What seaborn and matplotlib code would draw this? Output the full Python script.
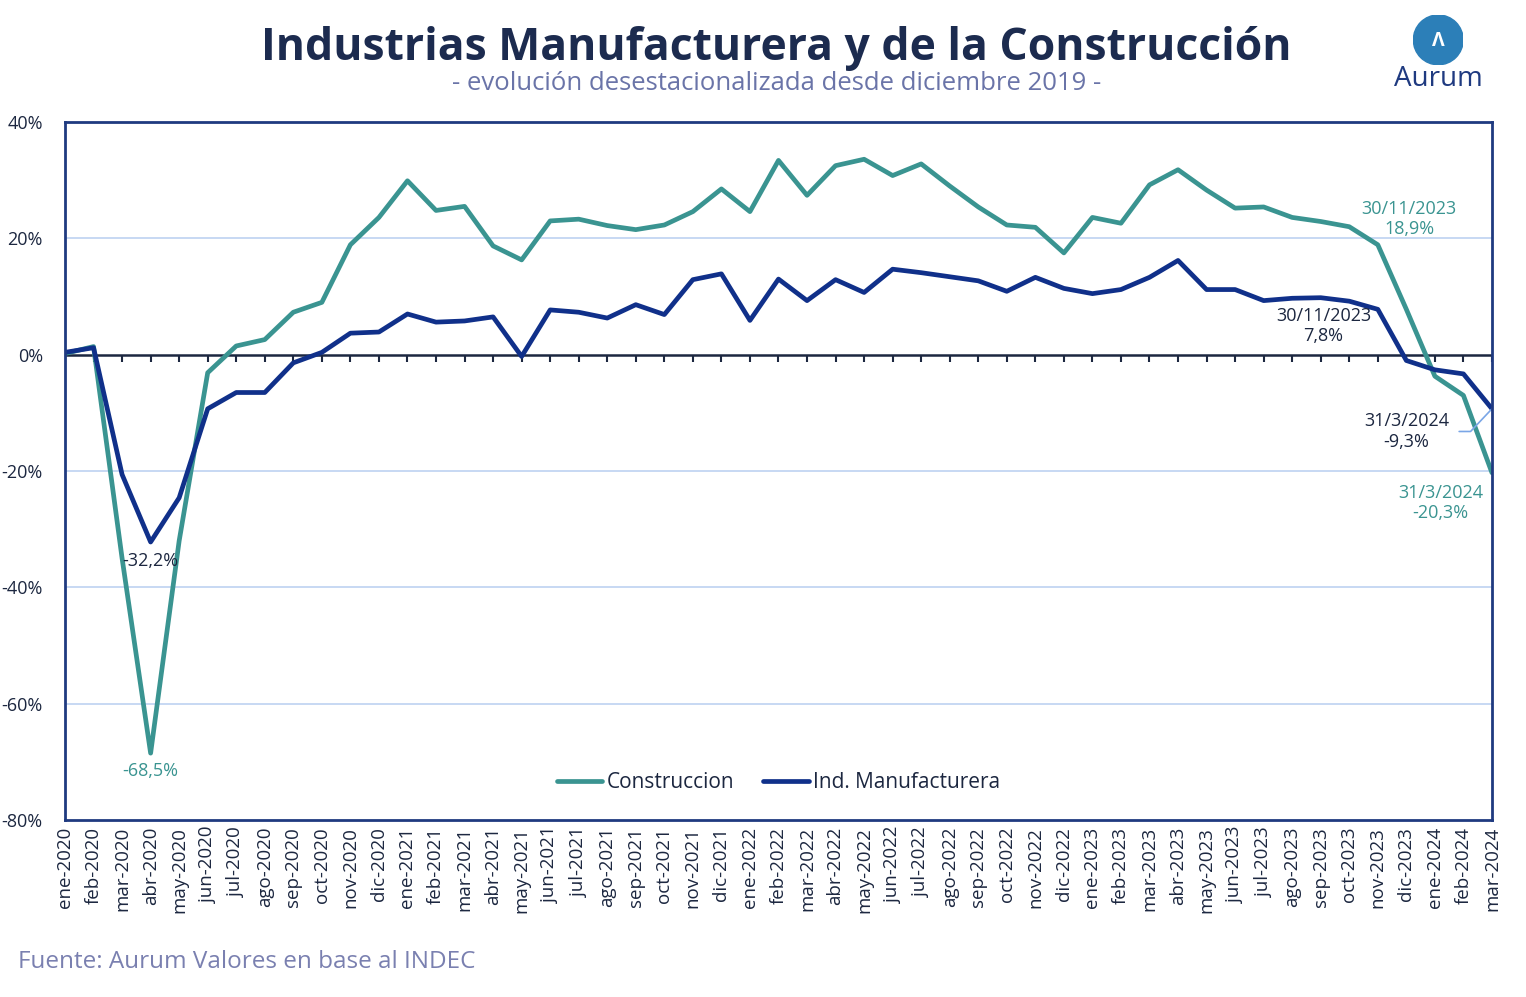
import numpy as np
import pandas as pd
import matplotlib.pyplot as plt
import matplotlib.patches as mpatches
from matplotlib.ticker import FuncFormatter
import seaborn as sns

meses = ["ene", "feb", "mar", "abr", "may", "jun", "jul", "ago", "sep", "oct", "nov", "dic"]
labels = [f"{m}-{y}" for y in range(2020, 2025) for m in meses][:51]

construccion = [
    0.2, 1.4, -35.0, -68.5, -32.0, -3.1, 1.5, 2.6, 7.3, 9.0, 18.9, 23.6,
    29.9, 24.8, 25.5, 18.7, 16.3, 23.0, 23.3, 22.2, 21.5, 22.3, 24.6, 28.5,
    24.6, 33.4, 27.4, 32.5, 33.6, 30.8, 32.8, 29.0, 25.4, 22.3, 21.9, 17.5,
    23.6, 22.6, 29.2, 31.8, 28.3, 25.2, 25.4, 23.6, 22.9, 22.0, 18.9, 7.8,
    -3.7, -7.0, -20.3,
]
manufacturera = [
    0.4, 1.2, -20.6, -32.2, -24.6, -9.3, -6.5, -6.5, -1.4, 0.4, 3.7, 3.9,
    7.0, 5.6, 5.8, 6.5, -0.3, 7.7, 7.3, 6.3, 8.6, 6.9, 12.9, 13.9,
    5.9, 13.0, 9.3, 12.9, 10.7, 14.7, 14.1, 13.4, 12.7, 10.9, 13.3, 11.4,
    10.5, 11.2, 13.3, 16.2, 11.2, 11.2, 9.3, 9.7, 9.8, 9.2, 7.8, -1.0,
    -2.6, -3.3, -9.3,
]

TEAL = "#3a9491"
NAVY = "#10308a"
DARK = "#1c2740"
FRAME = "#1f3a80"

df = pd.DataFrame({
    "idx": list(range(len(labels))) * 2,
    "valor": construccion + manufacturera,
    "serie": ["Construccion"] * len(labels) + ["Ind. Manufacturera"] * len(labels),
})

sns.set_style("white")
plt.rcParams["font.family"] = ["Open Sans", "DejaVu Sans"]

fig = plt.figure(figsize=(15.26, 9.97), dpi=100)
ax = fig.add_axes([0.0426, 0.1775, 0.9351, 0.7001])

sns.lineplot(data=df, x="idx", y="valor", hue="serie",
             palette={"Construccion": TEAL, "Ind. Manufacturera": NAVY},
             linewidth=3.4, ax=ax)

ax.set_xlim(0, len(labels) - 1)
ax.set_ylim(-80, 40)
ax.set_yticks(range(-80, 41, 20))
ax.yaxis.set_major_formatter(FuncFormatter(lambda v, p: f"{v:.0f}%"))
ax.set_xticks(range(len(labels)))
ax.set_xticklabels(labels, rotation=90, fontsize=13.5, color=DARK)
ax.tick_params(axis="y", labelsize=13, labelcolor=DARK, length=0, pad=16)
ax.tick_params(axis="x", length=0, pad=5)
ax.set_xlabel("")
ax.set_ylabel("")

for v in [20, -20, -40, -60]:
    ax.axhline(v, color="#c3d5f2", lw=1.3, zorder=0)
ax.axhline(0, color=DARK, lw=1.8, zorder=1)
ax.vlines(range(len(labels)), -1.3, 0, color=DARK, lw=1.5, zorder=1)

for s in ax.spines.values():
    s.set_color(FRAME)
    s.set_linewidth(2)

leg = ax.legend(loc="lower center", bbox_to_anchor=(0.5, 0.012), ncol=2, frameon=False,
                fontsize=15, handlelength=2.2, columnspacing=1.4, handletextpad=0.2)
for t in leg.get_texts():
    t.set_color(DARK)

# anotaciones
ax.text(3, -35.5, "-32,2%", ha="center", va="center", fontsize=13, color=DARK)
ax.text(3, -71.5, "-68,5%", ha="center", va="center", fontsize=13, color=TEAL)
ax.text(47.1, 23.3, "30/11/2023\n18,9%", ha="center", va="center", fontsize=13,
        color=TEAL, linespacing=1.15)
ax.text(44.1, 4.9, "30/11/2023\n7,8%", ha="center", va="center", fontsize=13,
        color=DARK, linespacing=1.15)
ax.text(47.0, -13.2, "31/3/2024\n-9,3%", ha="center", va="center", fontsize=13,
        color=DARK, linespacing=1.15)
ax.text(48.2, -25.5, "31/3/2024\n-20,3%", ha="center", va="center", fontsize=13,
        color=TEAL, linespacing=1.15)
ax.plot([48.85, 49.25, 50], [-13.2, -13.2, -9.3], color="#7aa6e6", lw=1.2, clip_on=False)

# titulos
fig.text(0.509, 0.951, "Industrias Manufacturera y de la Construcción", ha="center",
         va="center", fontsize=32, fontweight="bold", color="#1c2b4f")
fig.text(0.509, 0.916, "- evolución desestacionalizada desde diciembre 2019 -", ha="center",
         va="center", fontsize=18.5, color="#6a74a8")
fig.text(0.012, 0.035, "Fuente: Aurum Valores en base al INDEC", ha="left",
         va="center", fontsize=17.5, color="#7a80b0")

# logo
lax = fig.add_axes([0.925, 0.935, 0.035, 0.05])
lax.set_aspect("equal")
lax.add_patch(mpatches.Circle((0.5, 0.5), 0.5, color="#2c7fb8"))
lax.text(0.5, 0.47, "Λ", ha="center", va="center", fontsize=14, color="white", fontweight="bold")
lax.set_xlim(0, 1)
lax.set_ylim(0, 1)
lax.axis("off")
fig.text(0.9425, 0.921, "Aurum", ha="center", va="center", fontsize=20, color="#1f3a80")

fig.savefig("out.png", dpi=100)
